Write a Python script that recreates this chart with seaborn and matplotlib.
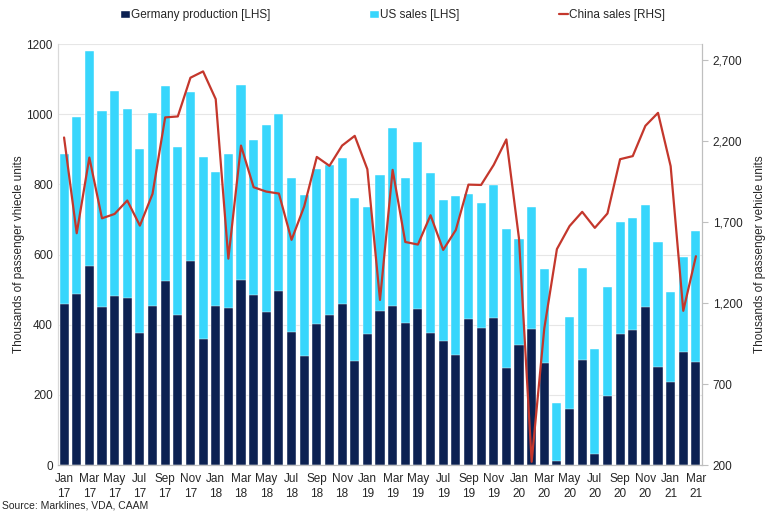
import matplotlib
matplotlib.use("Agg")
import matplotlib.pyplot as plt
import matplotlib.ticker as mticker
from matplotlib.patches import Patch
from matplotlib.lines import Line2D
import seaborn as sns
import numpy as np
import pandas as pd

# months Jan 17 .. Mar 21
mon = ["Jan", "Feb", "Mar", "Apr", "May", "Jun", "Jul", "Aug", "Sep", "Oct", "Nov", "Dec"]
months = [f"{mon[i % 12]} {17 + i // 12}" for i in range(51)]

germany = [459, 488, 568, 452, 482, 475, 377, 454, 526, 428, 582, 359,
           454, 448, 528, 486, 437, 496, 379, 310, 401, 428, 458, 298,
           374, 439, 454, 406, 444, 376, 355, 314, 417, 392, 418, 277,
           341, 389, 290, 11, 159, 301, 33, 196, 374, 385, 451, 281,
           237, 322, 293]
# total bar height (germany + us)
total = [887, 991, 1181, 1010, 1067, 1015, 902, 1003, 1081, 906, 1063, 879,
         835, 887, 1084, 927, 969, 1000, 819, 770, 843, 855, 874, 761,
         736, 827, 960, 817, 920, 832, 755, 767, 772, 748, 797, 672,
         644, 737, 558, 176, 421, 561, 330, 507, 693, 703, 742, 637,
         494, 592, 667]
us = [t - g for t, g in zip(total, germany)]
china = [2223, 1632, 2099, 1724, 1751, 1834, 1679, 1875, 2347, 2353, 2592, 2631,
         2460, 1475, 2173, 1916, 1889, 1877, 1591, 1797, 2103, 2048, 2173, 2233,
         2027, 1220, 2023, 1578, 1562, 1743, 1529, 1652, 1932, 1930, 2054, 2211,
         1599, 221, 1044, 1534, 1676, 1764, 1665, 1754, 2089, 2108, 2295, 2375,
         2046, 1153, 1490]

df = pd.DataFrame({"month": months, "germany": germany, "us": us, "china": china})
df["total"] = df["germany"] + df["us"]
df["pos"] = np.arange(len(df))

navy = "#0c2152"
cyan = "#38d6fc"
red = "#c4372c"

sns.set_style("white")
plt.rcParams["font.family"] = ["Liberation Sans", "DejaVu Sans"]

fig, ax = plt.subplots(figsize=(7.7, 5.18), dpi=100)
fig.subplots_adjust(left=0.075, right=0.912, top=0.915, bottom=0.102)

# stacked bars: draw total (cyan) then germany (navy) over it
sns.barplot(data=df, x="month", y="total", color=cyan, width=0.72, ax=ax,
            saturation=1, edgecolor="white", linewidth=0.3)
sns.barplot(data=df, x="month", y="germany", color=navy, width=0.72, ax=ax,
            saturation=1, edgecolor="white", linewidth=0.3)

ax.set_ylim(0, 1200)
ax.set_yticks(range(0, 1201, 200))
ax.set_xlim(-0.5, len(df) - 0.5)
ax.grid(axis="y", color="#e6e6e6", linewidth=0.8)
ax.set_axisbelow(True)
ax.set_ylabel("Thousands of passenger vhiecle units", fontsize=8.5, labelpad=1)
ax.set_xlabel("")

labels = [m.replace(" ", "\n") if i % 2 == 0 else "" for i, m in enumerate(months)]
ax.set_xticks(df["pos"])
ax.set_xticklabels(labels, fontsize=8.5, linespacing=1.25)
ax.tick_params(axis="x", length=0, pad=6)
ax.set_xticks(np.arange(-0.5, len(df), 2), minor=True)
ax.tick_params(axis="x", which="minor", length=4, color="#bfbfbf")
ax.tick_params(axis="y", labelsize=8.5, length=0)

ax2 = ax.twinx()
sns.lineplot(data=df, x="pos", y="china", color=red, linewidth=1.6, ax=ax2)
ax2.set_ylim(200, 2800)
ax2.set_yticks(range(200, 2701, 500))
ax2.yaxis.set_major_formatter(mticker.StrMethodFormatter("{x:,.0f}"))
ax2.set_ylabel("Thousands of passenger vehicle units", fontsize=8.5, labelpad=8)
ax2.tick_params(axis="y", labelsize=8.5, length=4, color="#bfbfbf")
ax2.set_xlim(-0.5, len(df) - 0.5)
ax2.set_xlabel("")

for a in (ax, ax2):
    a.spines["top"].set_visible(False)
    a.spines["left"].set_color("#d9d9d9")
    a.spines["right"].set_color("#bfbfbf")
    a.spines["bottom"].set_color("#bfbfbf")

handles = [Patch(facecolor=navy, label="Germany production [LHS]"),
           Patch(facecolor=cyan, label="US sales [LHS]"),
           Line2D([], [], color=red, linewidth=1.6, label="China sales [RHS]")]
fig.legend(handles=handles, loc="upper center", bbox_to_anchor=(0.51, 1.003), ncol=3,
           frameon=False, fontsize=8.5, handlelength=0.8, handleheight=0.6,
           handletextpad=0.1, columnspacing=8.4)

fig.text(0.003, 0.018, "Source: Marklines, VDA, CAAM", fontsize=7.5)

fig.savefig("out.png", dpi=100)
